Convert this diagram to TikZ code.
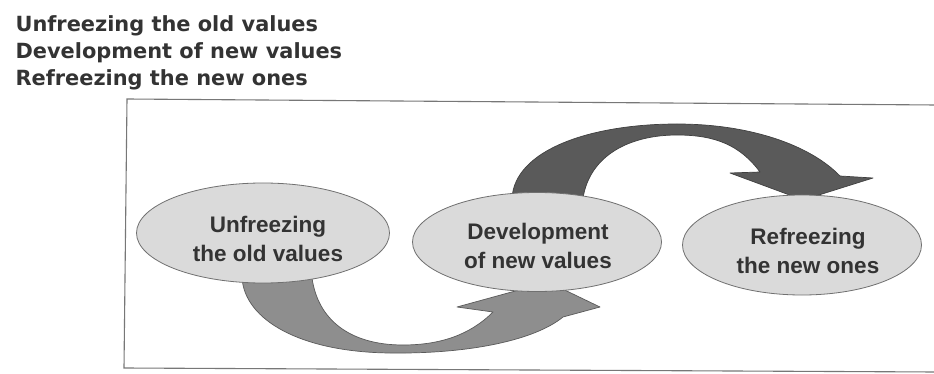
\documentclass[tikz,border=0pt]{standalone}
\usepackage{fontspec}
\setmainfont{Liberation Sans}
\newfontfamily\headfont{DejaVu Sans}
\usetikzlibrary{shapes.geometric}
\definecolor{ellfill}{HTML}{DADADA}
\definecolor{elldraw}{HTML}{707070}
\definecolor{txt}{HTML}{333333}
\definecolor{lowfill}{HTML}{8E8E8E}
\definecolor{lowdraw}{HTML}{5A5A5A}
\definecolor{upfill}{HTML}{5A5A5A}
\definecolor{updraw}{HTML}{404040}
\definecolor{boxline}{HTML}{777777}
\tikzset{
  stage/.style={ellipse, draw=elldraw, fill=ellfill, line width=0.8pt, inner sep=0pt},
  stagetext/.style={text=txt, align=center, font=\fontsize{22.5}{29}\selectfont\bfseries},
  headtext/.style={text=txt, anchor=base west, font=\headfont\fontsize{20.9}{27}\selectfont\bfseries},
  lowarrow/.style={fill=lowfill, draw=lowdraw, line width=0.7pt, line join=round},
  uparrow/.style={fill=upfill, draw=updraw, line width=0.7pt, line join=round}
}
\begin{document}
\begin{tikzpicture}[x=1pt,y=-1pt]
\useasboundingbox (0,0) rectangle (934,374);
\fill[white] (0,0) rectangle (934,374);
% header lines
\node[headtext] (h1) at (12,32) {Unfreezing the old values};
\node[headtext] (h2) at (12,59) {Development of new values};
\node[headtext] (h3) at (12,86) {Refreezing the new ones};
% frame (open on the right)
\draw[boxline, line width=1.1pt] (936,105) -- (127,99) -- (124,368) -- (936,372);
% lower arrow: from stage 1 to stage 2
\draw[lowarrow] (242,278) .. controls (245,320) and (300,352) .. (390,353)
  .. controls (470,354) and (535,340) .. (563,317)
  -- (600,307) -- (548,282) -- (457,307) -- (493,312)
  .. controls (470,335) and (440,345) .. (403,345)
  .. controls (350,345) and (318,320) .. (312,278) -- cycle;
% upper arrow: from stage 2 to stage 3
\draw[uparrow] (512,198) .. controls (515,150) and (590,124) .. (677,124)
  .. controls (750,124) and (810,145) .. (840,176)
  -- (873,178) -- (803,200) -- (730,173) -- (760,172)
  .. controls (740,145) and (715,135) .. (677,135)
  .. controls (630,135) and (590,155) .. (583,198) -- cycle;
% stages
\node[stage, minimum width=253pt, minimum height=100pt] (s1) at (263,233) {};
\node[stage, minimum width=249pt, minimum height=99pt] (s2) at (537,242) {};
\node[stage, minimum width=239pt, minimum height=100pt] (s3) at (802,245) {};
\node[stagetext] (t1) at (268,239) {Unfreezing\\the old values};
\node[stagetext] (t2) at (538,246) {Development\\of new values};
\node[stagetext] (t3) at (808,251) {Refreezing\\the new ones};
\end{tikzpicture}
\end{document}
